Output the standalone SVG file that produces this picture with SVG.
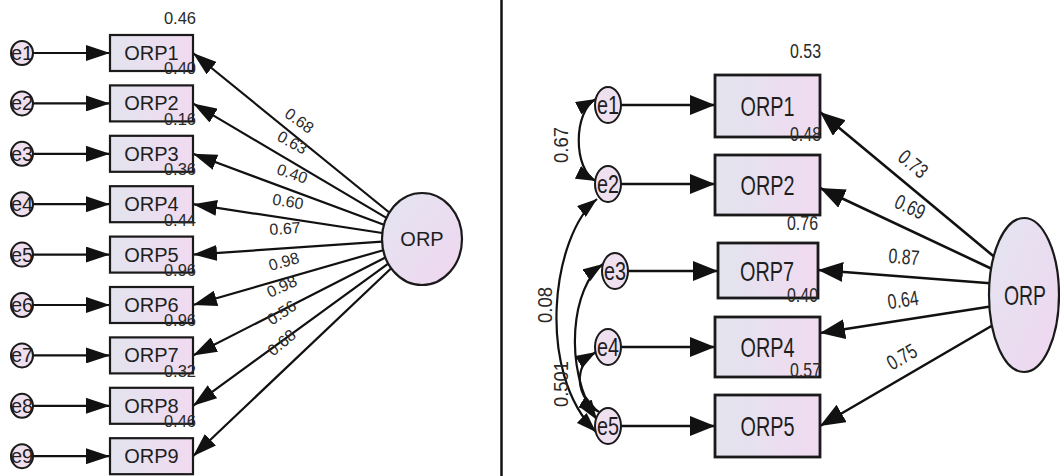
<svg xmlns="http://www.w3.org/2000/svg" width="1060" height="476" viewBox="0 0 1060 476">
  <defs>
    <linearGradient id="boxFill" x1="0" y1="0" x2="1" y2="0">
      <stop offset="0" stop-color="#e2e4ee"/>
      <stop offset="1" stop-color="#f1daf1"/>
    </linearGradient>
    <linearGradient id="latFill" x1="0" y1="0" x2="1" y2="1">
      <stop offset="0" stop-color="#e3e5f0"/>
      <stop offset="1" stop-color="#f0d6f0"/>
    </linearGradient>
    <marker id="arrL" markerUnits="userSpaceOnUse" markerWidth="24" markerHeight="16" refX="24" refY="8" orient="auto">
      <path d="M0,0 L24,8 L0,16 z" fill="#111"/>
    </marker>
    <marker id="arrR" markerUnits="userSpaceOnUse" markerWidth="25" markerHeight="20" refX="25" refY="10" orient="auto">
      <path d="M0,0 L25,10 L0,20 z" fill="#111"/>
    </marker>
    <marker id="arrC" markerUnits="userSpaceOnUse" markerWidth="20" markerHeight="14" refX="20" refY="7" orient="auto-start-reverse">
      <path d="M0,0 L20,7 L0,14 z" fill="#111"/>
    </marker>
    <style>
      .box { fill: url(#boxFill); stroke: #1a1a1a; stroke-width: 2.2; }
      .boxR { fill: url(#boxFill); stroke: #1a1a1a; stroke-width: 2.8; }
      .err { fill: #efe0f0; stroke: #1a1a1a; stroke-width: 2; }
      .lat { fill: url(#latFill); stroke: #1a1a1a; stroke-width: 2.2; }
      .lnL { fill: none; stroke: #111; stroke-width: 2.2; marker-end: url(#arrL); }
      .lnR { fill: none; stroke: #111; stroke-width: 2.6; marker-end: url(#arrR); }
      .arc { fill: none; stroke: #111; stroke-width: 2.2; marker-start: url(#arrC); marker-end: url(#arrC); }
      text { font-family: "Liberation Sans", Arial, sans-serif; fill: #1e1e1e; }
      .nm { font-size: 20px; text-anchor: middle; }
      .ev { font-size: 20px; text-anchor: middle; }
      .vl { font-size: 16.5px; text-anchor: end; fill: #2a2a2a; }
      .ld { font-size: 16px; text-anchor: middle; fill: #2a2a2a; }
      .nmR { font-size: 28px; text-anchor: middle; }
      .evR { font-size: 25px; text-anchor: middle; }
      .vlR { font-size: 20px; text-anchor: end; fill: #2a2a2a; }
      .ldR { font-size: 21px; text-anchor: middle; fill: #2a2a2a; }
    </style>
  </defs>

  <rect width="1060" height="476" fill="#ffffff"/>

  <!-- panel divider -->
  <line x1="501.5" y1="0" x2="501.5" y2="476" stroke="#111" stroke-width="2.5"/>

  <!-- ===== left model: nine indicators ===== -->
  <g id="connectors-left">
    <line class="lnL" x1="33" y1="53" x2="110" y2="53"/>
    <line class="lnL" x1="33" y1="103.4" x2="110" y2="103.4"/>
    <line class="lnL" x1="33" y1="153.8" x2="110" y2="153.8"/>
    <line class="lnL" x1="33" y1="204.2" x2="110" y2="204.2"/>
    <line class="lnL" x1="33" y1="254.6" x2="110" y2="254.6"/>
    <line class="lnL" x1="33" y1="305" x2="110" y2="305"/>
    <line class="lnL" x1="33" y1="355.4" x2="110" y2="355.4"/>
    <line class="lnL" x1="33" y1="405.8" x2="110" y2="405.8"/>
    <line class="lnL" x1="33" y1="456.2" x2="110" y2="456.2"/>

    <line class="lnL" x1="389.3" y1="212.5" x2="193" y2="53"/>
    <line class="lnL" x1="386.4" y1="217.9" x2="193" y2="103.4"/>
    <line class="lnL" x1="383.9" y1="224.8" x2="193" y2="153.8"/>
    <line class="lnL" x1="382.3" y1="233" x2="193" y2="204.2"/>
    <line class="lnL" x1="382.1" y1="241.7" x2="193" y2="254.6"/>
    <line class="lnL" x1="383.2" y1="250.2" x2="193" y2="305"/>
    <line class="lnL" x1="385.4" y1="257.6" x2="193" y2="355.4"/>
    <line class="lnL" x1="388.2" y1="263.6" x2="193" y2="405.8"/>
    <line class="lnL" x1="391.2" y1="268.3" x2="193" y2="456.2"/>
  </g>

  <g id="e1"><ellipse class="err" cx="22" cy="53" rx="11" ry="12"/><text class="ev" x="22" y="60">e1</text></g>
  <g id="e2"><ellipse class="err" cx="22" cy="103.4" rx="11" ry="12"/><text class="ev" x="22" y="110.4">e2</text></g>
  <g id="e3"><ellipse class="err" cx="22" cy="153.8" rx="11" ry="12"/><text class="ev" x="22" y="160.8">e3</text></g>
  <g id="e4"><ellipse class="err" cx="22" cy="204.2" rx="11" ry="12"/><text class="ev" x="22" y="211.2">e4</text></g>
  <g id="e5"><ellipse class="err" cx="22" cy="254.6" rx="11" ry="12"/><text class="ev" x="22" y="261.6">e5</text></g>
  <g id="e6"><ellipse class="err" cx="22" cy="305" rx="11" ry="12"/><text class="ev" x="22" y="312">e6</text></g>
  <g id="e7"><ellipse class="err" cx="22" cy="355.4" rx="11" ry="12"/><text class="ev" x="22" y="362.4">e7</text></g>
  <g id="e8"><ellipse class="err" cx="22" cy="405.8" rx="11" ry="12"/><text class="ev" x="22" y="412.8">e8</text></g>
  <g id="e9"><ellipse class="err" cx="22" cy="456.2" rx="11" ry="12"/><text class="ev" x="22" y="463.2">e9</text></g>

  <g id="ORP1"><rect class="box" x="110" y="35" width="83" height="36"/><text class="nm" x="151.5" y="60">ORP1</text></g>
  <g id="ORP2"><rect class="box" x="110" y="85.4" width="83" height="36"/><text class="nm" x="151.5" y="110.4">ORP2</text></g>
  <g id="ORP3"><rect class="box" x="110" y="135.8" width="83" height="36"/><text class="nm" x="151.5" y="160.8">ORP3</text></g>
  <g id="ORP4"><rect class="box" x="110" y="186.2" width="83" height="36"/><text class="nm" x="151.5" y="211.2">ORP4</text></g>
  <g id="ORP5"><rect class="box" x="110" y="236.6" width="83" height="36"/><text class="nm" x="151.5" y="261.6">ORP5</text></g>
  <g id="ORP6"><rect class="box" x="110" y="287" width="83" height="36"/><text class="nm" x="151.5" y="312">ORP6</text></g>
  <g id="ORP7"><rect class="box" x="110" y="337.4" width="83" height="36"/><text class="nm" x="151.5" y="362.4">ORP7</text></g>
  <g id="ORP8"><rect class="box" x="110" y="387.8" width="83" height="36"/><text class="nm" x="151.5" y="412.8">ORP8</text></g>
  <g id="ORP9"><rect class="box" x="110" y="438.2" width="83" height="36"/><text class="nm" x="151.5" y="463.2">ORP9</text></g>

  <g id="ORP-left"><ellipse class="lat" cx="422" cy="239" rx="40" ry="46"/><text class="nm" x="422" y="246">ORP</text></g>

  <!-- squared multiple correlations, left -->
  <g id="r2-left">
    <text class="vl" x="196" y="24">0.46</text>
    <text class="vl" x="196" y="74.4">0.40</text>
    <text class="vl" x="196" y="124.8">0.16</text>
    <text class="vl" x="196" y="175.2">0.36</text>
    <text class="vl" x="196" y="225.6">0.44</text>
    <text class="vl" x="196" y="276">0.96</text>
    <text class="vl" x="196" y="326.4">0.96</text>
    <text class="vl" x="196" y="376.8">0.32</text>
    <text class="vl" x="196" y="427.2">0.46</text>
  </g>

  <!-- standardized loadings, left -->
  <g id="loadings-left">
    <text class="ld" transform="translate(299,121) rotate(36)" y="5">0.68</text>
    <text class="ld" transform="translate(292,143) rotate(29)" y="5">0.63</text>
    <text class="ld" transform="translate(292,174) rotate(19)" y="5">0.40</text>
    <text class="ld" transform="translate(288,202) rotate(8.7)" y="5">0.60</text>
    <text class="ld" transform="translate(285,229) rotate(-3.9)" y="5">0.67</text>
    <text class="ld" transform="translate(284,262) rotate(-16)" y="5">0.98</text>
    <text class="ld" transform="translate(282,287) rotate(-25)" y="5">0.98</text>
    <text class="ld" transform="translate(282,313) rotate(-33)" y="5">0.56</text>
    <text class="ld" transform="translate(282,343) rotate(-40)" y="5">0.68</text>
  </g>

  <!-- ===== right model: five indicators with correlated errors ===== -->
  <g id="connectors-right">
    <line class="lnR" x1="621" y1="105" x2="715" y2="105"/>
    <line class="lnR" x1="621" y1="184" x2="715" y2="184"/>
    <line class="lnR" x1="628" y1="271" x2="718" y2="271"/>
    <line class="lnR" x1="621" y1="347" x2="715" y2="347"/>
    <line class="lnR" x1="621" y1="426" x2="715" y2="426"/>

    <line class="lnR" x1="1000" y1="261.6" x2="820" y2="112"/>
    <line class="lnR" x1="1000" y1="272.7" x2="820" y2="188"/>
    <line class="lnR" x1="1000" y1="284" x2="818" y2="270"/>
    <line class="lnR" x1="1000" y1="305" x2="820" y2="333"/>
    <line class="lnR" x1="1000" y1="321" x2="820" y2="426"/>

    <path class="arc" d="M596,99 C573,111 573,170 596,181"/>
    <path class="arc" d="M597,199 C552,235 535,372 596,432"/>
    <path class="arc" d="M603,264 C572,285 562,368 597,420"/>
    <path class="arc" d="M596,352 C572,366 576,398 599,412"/>
  </g>

  <g id="r-e1"><ellipse class="err" cx="608" cy="105" rx="13" ry="18"/><text class="evR" x="608" y="114" textLength="22" lengthAdjust="spacingAndGlyphs">e1</text></g>
  <g id="r-e2"><ellipse class="err" cx="608" cy="184" rx="13" ry="18"/><text class="evR" x="608" y="193" textLength="22" lengthAdjust="spacingAndGlyphs">e2</text></g>
  <g id="r-e3"><ellipse class="err" cx="615" cy="271" rx="13" ry="18"/><text class="evR" x="615" y="280" textLength="22" lengthAdjust="spacingAndGlyphs">e3</text></g>
  <g id="r-e4"><ellipse class="err" cx="608" cy="347" rx="13" ry="18"/><text class="evR" x="608" y="356" textLength="22" lengthAdjust="spacingAndGlyphs">e4</text></g>
  <g id="r-e5"><ellipse class="err" cx="608" cy="426" rx="13" ry="18"/><text class="evR" x="608" y="435" textLength="22" lengthAdjust="spacingAndGlyphs">e5</text></g>

  <g id="r-ORP1"><rect class="boxR" x="715" y="75" width="105" height="62"/><text class="nmR" x="767.5" y="116" textLength="54" lengthAdjust="spacingAndGlyphs">ORP1</text></g>
  <g id="r-ORP2"><rect class="boxR" x="715" y="155" width="105" height="60"/><text class="nmR" x="767.5" y="195" textLength="54" lengthAdjust="spacingAndGlyphs">ORP2</text></g>
  <g id="r-ORP7"><rect class="boxR" x="718" y="243" width="100" height="55"/><text class="nmR" x="767" y="280.5" textLength="54" lengthAdjust="spacingAndGlyphs">ORP7</text></g>
  <g id="r-ORP4"><rect class="boxR" x="715" y="317" width="105" height="60"/><text class="nmR" x="767.5" y="357" textLength="54" lengthAdjust="spacingAndGlyphs">ORP4</text></g>
  <g id="r-ORP5"><rect class="boxR" x="715" y="395" width="105" height="62"/><text class="nmR" x="767.5" y="436" textLength="54" lengthAdjust="spacingAndGlyphs">ORP5</text></g>

  <g id="r-ORP"><ellipse class="lat" cx="1024" cy="295" rx="35" ry="77"/><text class="nmR" x="1025" y="305" font-size="28" textLength="42" lengthAdjust="spacingAndGlyphs">ORP</text></g>

  <!-- squared multiple correlations, right -->
  <g id="r2-right">
    <text class="vlR" x="821" y="58" textLength="31" lengthAdjust="spacingAndGlyphs">0.53</text>
    <text class="vlR" x="821" y="141" textLength="31" lengthAdjust="spacingAndGlyphs">0.48</text>
    <text class="vlR" x="818" y="230" textLength="31" lengthAdjust="spacingAndGlyphs">0.76</text>
    <text class="vlR" x="818" y="302" textLength="31" lengthAdjust="spacingAndGlyphs">0.40</text>
    <text class="vlR" x="821" y="377" textLength="31" lengthAdjust="spacingAndGlyphs">0.57</text>
  </g>

  <!-- standardized loadings, right -->
  <g id="loadings-right">
    <text class="ldR" transform="translate(913,164) rotate(39.7)" y="7" textLength="31" lengthAdjust="spacingAndGlyphs">0.73</text>
    <text class="ldR" transform="translate(910,207) rotate(25.2)" y="7" textLength="31" lengthAdjust="spacingAndGlyphs">0.69</text>
    <text class="ldR" transform="translate(904,257) rotate(4.4)" y="7" textLength="31" lengthAdjust="spacingAndGlyphs">0.87</text>
    <text class="ldR" transform="translate(903,300) rotate(-8.8)" y="7" textLength="31" lengthAdjust="spacingAndGlyphs">0.64</text>
    <text class="ldR" transform="translate(902,357) rotate(-30.2)" y="7" textLength="31" lengthAdjust="spacingAndGlyphs">0.75</text>
  </g>

  <!-- error covariances -->
  <g id="covariances">
    <text class="ldR" transform="translate(561,145) rotate(-90)" y="7" textLength="36" lengthAdjust="spacingAndGlyphs">0.67</text>
    <text class="ldR" transform="translate(545,305) rotate(-90)" y="7" textLength="36" lengthAdjust="spacingAndGlyphs">0.08</text>
    <text class="ldR" transform="translate(561,384) rotate(-90)" y="7" textLength="46" lengthAdjust="spacingAndGlyphs">0.501</text>
  </g>
</svg>
